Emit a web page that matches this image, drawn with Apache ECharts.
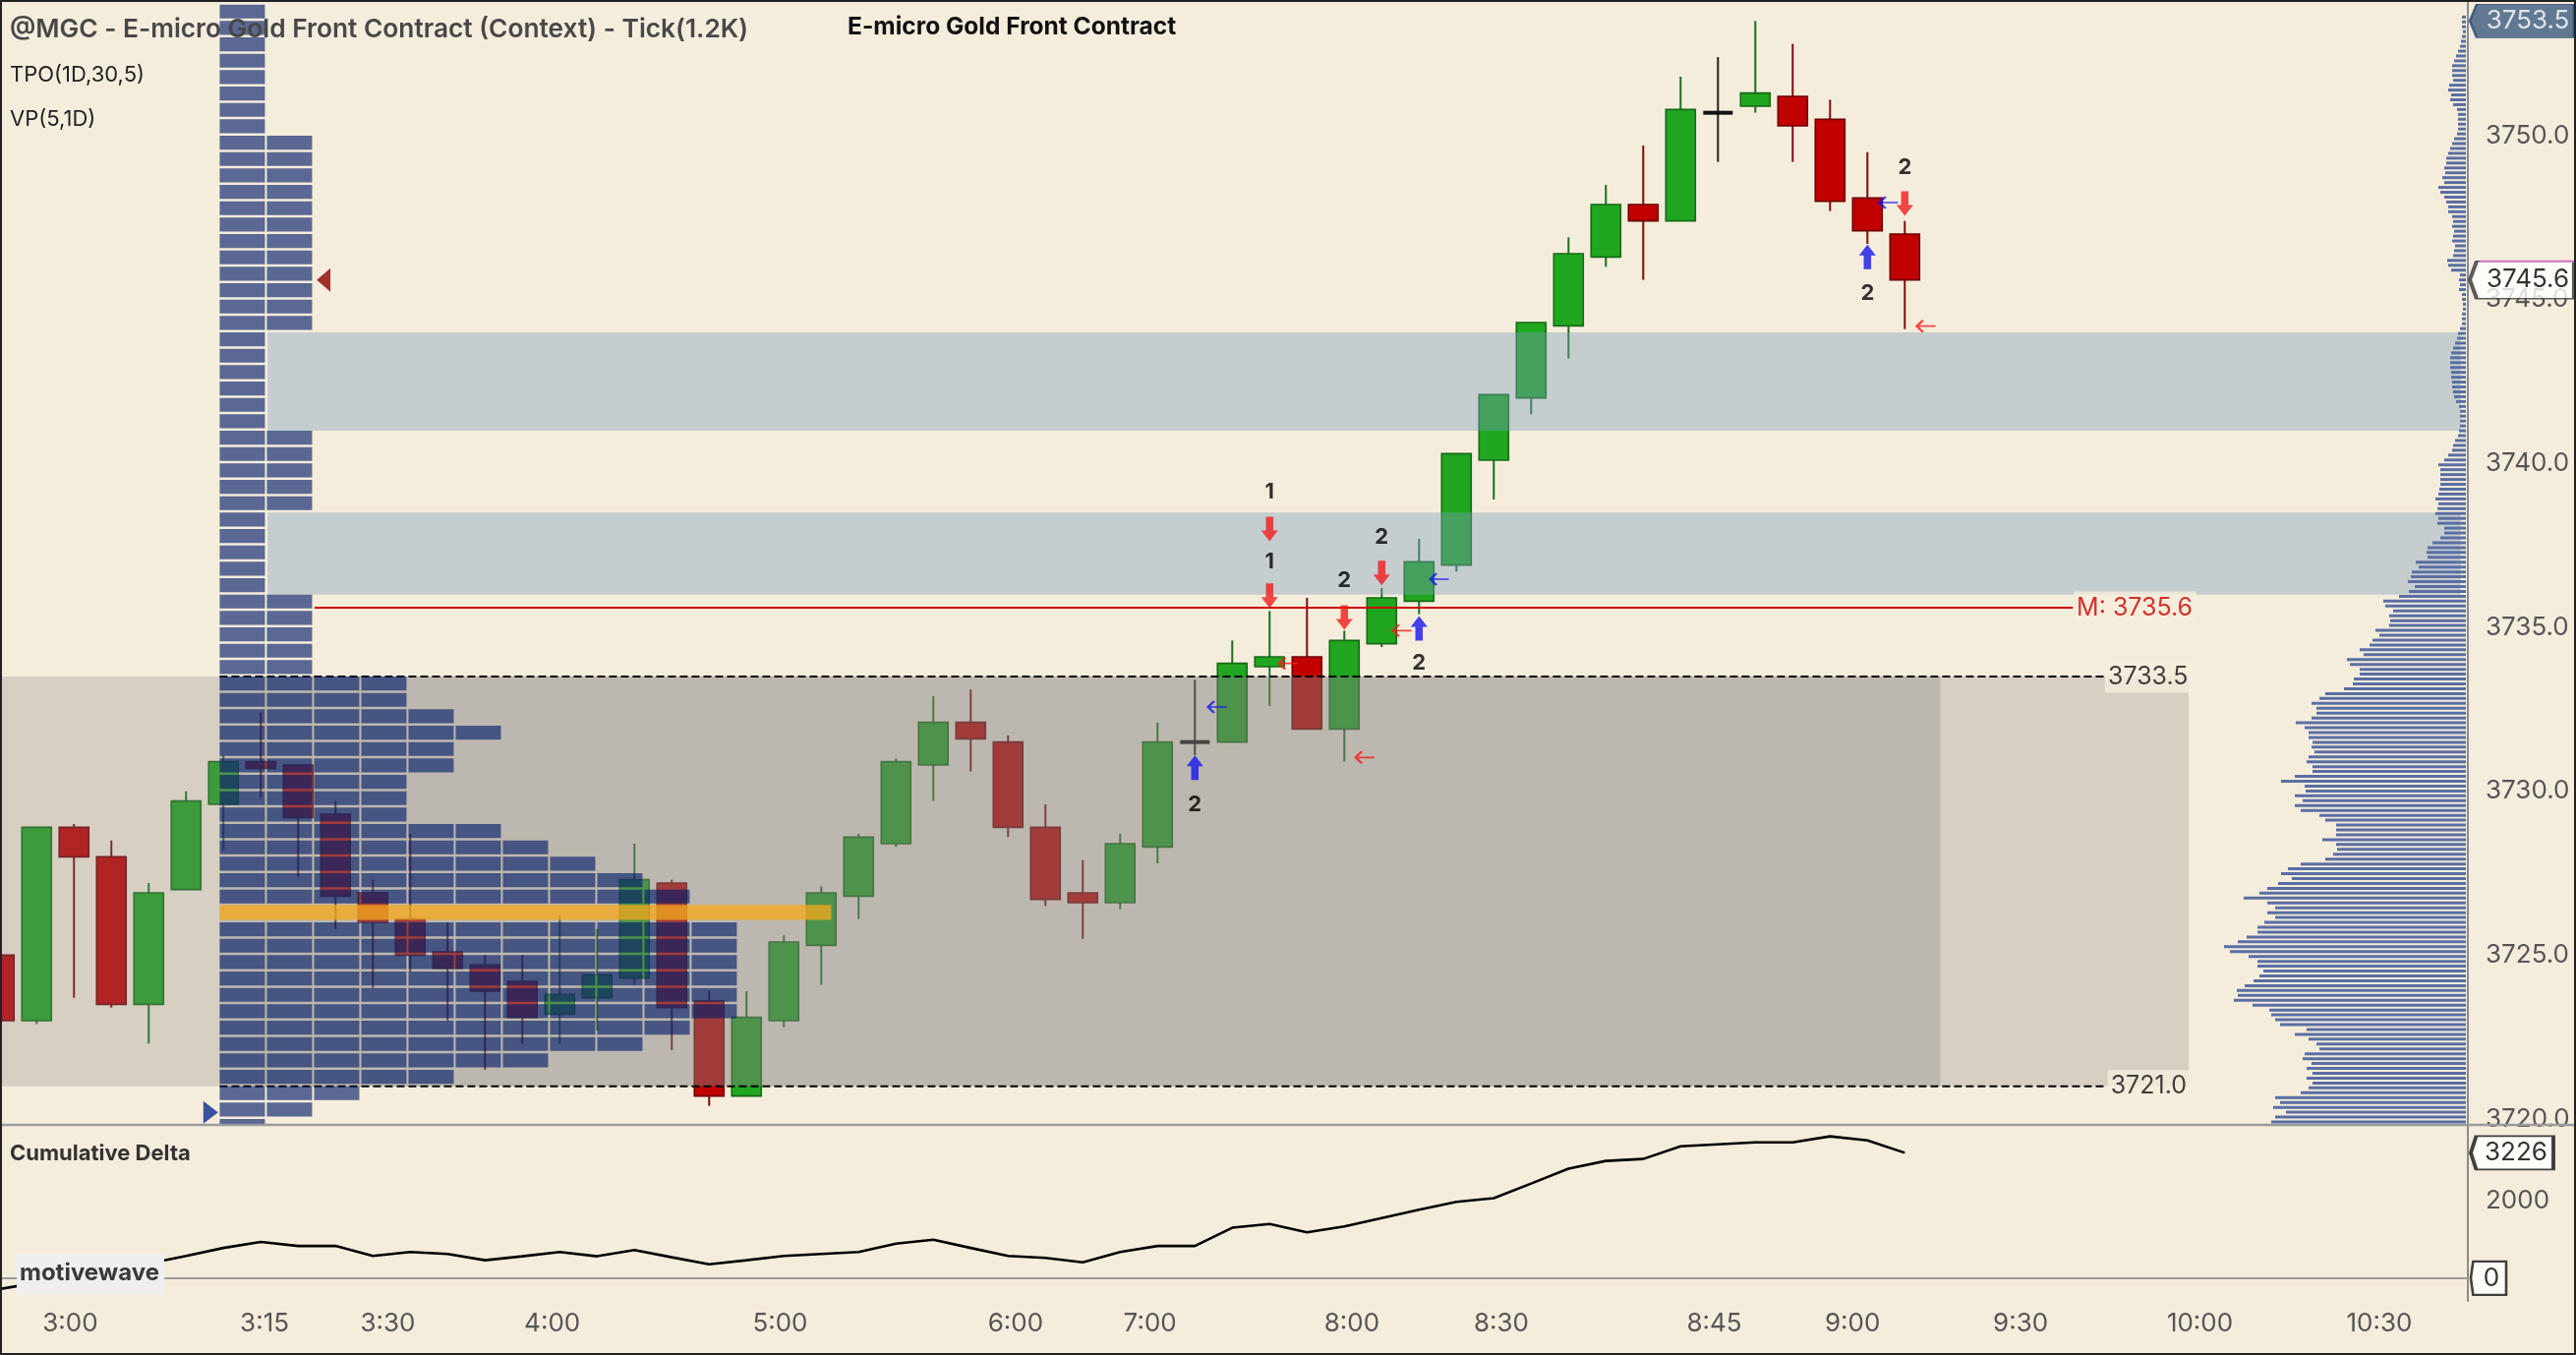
<!DOCTYPE html>
<html><head><meta charset="utf-8">
<script src="https://cdn.jsdelivr.net/npm/echarts@6/dist/echarts.min.js"></script>
<style>html,body{margin:0;padding:0;background:#f5eddc;overflow:hidden}#c{width:2620px;height:1378px}</style>
</head><body><div id="c"></div>
<script>
// ---------------- data ----------------
const candleOpen  = [3725.0,3723.0,3728.9,3728.0,3723.5,3727.0,3729.6,3730.9,3730.8,3729.3,3726.9,3726.1,3725.1,3724.7,3724.2,3723.2,3723.7,3724.3,3727.2,3723.6,3720.7,3723.0,3725.3,3726.8,3728.4,3730.8,3732.1,3731.5,3728.9,3726.9,3726.6,3728.3,3731.5,3731.5,3733.8,3734.1,3731.9,3734.5,3735.8,3736.9,3740.1,3742.0,3744.2,3746.3,3747.9,3747.4,3750.7,3750.9,3751.2,3750.5,3748.1,3747.0];
const candleClose = [3723.0,3728.9,3728.0,3723.5,3726.9,3729.7,3730.9,3730.7,3729.2,3726.8,3726.0,3725.0,3724.6,3723.9,3723.1,3723.8,3724.4,3727.3,3723.4,3720.7,3723.1,3725.4,3726.9,3728.6,3730.9,3732.1,3731.6,3728.9,3726.7,3726.6,3728.4,3731.5,3731.5,3733.9,3734.1,3731.9,3734.6,3735.9,3737.0,3740.3,3742.1,3744.3,3746.4,3747.9,3747.4,3750.8,3750.7,3751.3,3750.3,3748.0,3747.1,3745.6];
const candleLow   = [3722.9,3722.9,3723.7,3723.4,3722.3,3727.0,3728.2,3729.8,3727.4,3725.8,3724.0,3724.5,3723.0,3721.5,3722.3,3722.3,3722.7,3724.1,3722.1,3720.4,3720.7,3722.8,3724.1,3726.1,3728.3,3729.7,3730.6,3728.6,3726.5,3725.5,3726.4,3727.8,3731.1,3731.5,3732.6,3731.9,3730.9,3734.4,3735.4,3736.7,3738.9,3741.5,3743.2,3746.0,3745.6,3747.4,3749.2,3750.7,3749.2,3747.7,3746.7,3744.1];
const candleHigh  = [3725.1,3728.9,3729.0,3728.5,3727.2,3730.0,3731.1,3732.4,3730.8,3729.7,3727.3,3728.7,3726.0,3725.0,3725.0,3726.2,3725.8,3728.4,3727.3,3723.9,3723.9,3725.6,3727.1,3728.7,3731.0,3732.9,3733.1,3731.7,3729.6,3727.9,3728.7,3732.1,3733.4,3734.6,3735.5,3735.9,3734.9,3736.2,3737.7,3740.3,3742.1,3744.3,3746.9,3748.5,3749.7,3751.8,3752.4,3753.5,3752.8,3751.1,3749.5,3747.4];
const cumDelta    = [-280,-120,30,200,376,572,778,932,829,829,572,675,624,462,564,675,564,726,538,359,462,572,624,675,889,991,778,572,521,410,675,829,829,1299,1393,1180,1333,1547,1761,1966,2060,2436,2820,3017,3068,3393,3444,3496,3496,3650,3547,3226];

const timeLabels   = ['3:00','3:15','3:30','4:00','5:00','6:00','7:00','8:00','8:30','8:45','9:00','9:30','10:00','10:30'];
const timeLabelPos = [1.9,7.1,10.4,14.8,20.9,27.2,30.8,36.2,40.2,45.9,49.6,54.1,58.9,63.7];
const priceTicks   = [3720,3725,3730,3735,3740,3745,3750];
const deltaTicks   = [2000];

// TPO profile: rows of 0.5 from bin top 3754.0 downward, TPO count per row (POC row flagged)
const tpoBinTop = 3754.0;
const tpoBinSize = 0.5;
const tpoCounts = [1,1,1,1,1,1,1,1, 2,2,2,2,2,2,2,2,2,2,2,2, 1,1,1,1,1,1, 2,2,2,2,2, 1,1,1,1,1, 2,2,2,2,2,
  4,4,5,6,5,5,4,4,4,6,7,8,9,10,13,11,11,11,11,11,11,10,9,7,5,3,2,1];
const pocBin = [3726.0, 3726.5];

// Volume profile (right side), from 3753.62 downward
const vpTop = 3753.62;
const vpStep = 0.1485;
const vpVolumes = [4,4,4,3,4,5,6,8,10,12,14,14,14,13,17,18,15,16,13,9,8,8,8,8,9,12,14,16,18,20,20,22,21,24,22,28,26,22,20,18,18,14,13,14,12,13,14,11,12,13,19,18,15,6,7,6,7,4,4,3,3,4,4,4,6,8,9,11,13,15,16,16,16,15,15,14,14,13,12,10,7,6,6,6,6,7,8,11,13,14,18,22,28,26,26,26,26,27,28,31,28,29,31,28,29,22,22,26,34,39,40,39,51,48,55,56,59,52,58,68,84,82,74,78,77,78,92,88,95,98,108,104,121,118,108,108,114,115,
  124,143,149,157,152,152,157,173,164,160,160,156,157,154,160,162,156,156,174,188,164,163,174,166,174,168,149,143,132,132,132,146,132,131,135,143,168,181,188,177,191,202,210,226,202,194,202,194,205,212,212,223,232,246,240,221,212,212,206,210,216,225,233,232,236,217,200,198,194,189,162,174,160,152,149,164,166,157,162,156,162,156,160,168,194,189,196,183,194,198];

const valueArea = [3721.0, 3733.5];
const singlePrints = [[3741.0, 3744.0], [3736.0, 3738.5]];
const midPrice = 3735.6;
const sessionHigh = 3753.5;
const lastPrice = 3745.6;
const lastDelta = 3226;

// signals
const sigNumPos  = [[34,3739.13],[34,3737.0],[36,3736.44],[37,3737.75],[38,3733.92],[32,3729.6],[51,3749.04],[50,3745.2]];
const sigNumText = ['1','1','2','2','2','2','2','2'];
const sellArrows = [[34,3738.0],[34,3735.97],[36,3735.3],[37,3736.66],[51,3747.93]];
const buyArrows  = [[38,3734.97],[32,3730.72],[50,3746.3]];
const blueTicks  = [[32.6,3732.57],[38.55,3736.47],[50.57,3747.96]];
const redTicks   = [[34.5,3733.9],[36.55,3731.03],[37.55,3734.9],[51.57,3744.19]];

// ---------------- chart ----------------
const FONT = 'Inter, "Noto Sans", sans-serif';
const X_MIN = 0.02, X_MAX = 66.07, P_MIN = 3719.82, P_MAX = 3754.14;
const CD_MIN = -585, CD_MAX = 3919;
const BG = '#f5eddc';

const chart = echarts.init(document.getElementById('c'), null, {renderer:'canvas', width:2620, height:1378});

function renderCandle(params, api) {
  const i = api.value(0), o = api.value(1), c = api.value(2), l = api.value(3), h = api.value(4);
  const pO = api.coord([i, o]), pC = api.coord([i, c]), pL = api.coord([i, l]), pH = api.coord([i, h]);
  const x = pO[0], bw = 30;
  const doji = Math.abs(c - o) < 0.05, up = c > o;
  let fill = up ? '#21a621' : '#c10000';
  let stroke = up ? '#146a14' : '#6e0000';
  let wick = up ? '#1b6f1b' : '#7d0b0b';
  if (doji) { fill = '#111'; stroke = '#111'; wick = '#222'; }
  let top = Math.min(pO[1], pC[1]), hgt = Math.abs(pO[1] - pC[1]);
  if (doji) { top -= 2; hgt = 4; }
  return {type:'group', children:[
    {type:'line', shape:{x1:x, y1:pH[1], x2:x, y2:pL[1]}, style:{stroke:wick, lineWidth:2}},
    {type:'rect', shape:{x:x - bw/2, y:top, width:bw, height:Math.max(hgt,1)}, style:{fill:fill, stroke:stroke, lineWidth:doji?0:1.6}}
  ]};
}
function rectRenderer(fill) {
  return function(params, api) {
    const a = api.coord([api.value(0), api.value(3)]);
    const b = api.coord([api.value(1), api.value(2)]);
    return {type:'rect', shape:{x:a[0], y:a[1], width:b[0]-a[0], height:b[1]-a[1]}, style:{fill:fill}};
  };
}
const tpoStartIdx = 5.9;
function renderTPO(params, api) {
  const row = api.value(0), cnt = api.value(1);
  const pTop = tpoBinTop - row * tpoBinSize, pBot = pTop - tpoBinSize;
  const t = api.coord([tpoStartIdx, pTop]), b = api.coord([tpoStartIdx, pBot]);
  const h = (b[1] - t[1]) - 2.5;
  if (Math.abs(pBot - pocBin[0]) < 1e-6) {
    return {type:'rect', shape:{x:t[0], y:t[1]-1, width:cnt*48 - 2, height:h+1}, style:{fill:'rgba(246,168,27,0.76)'}};
  }
  const ch = [];
  for (let j = 0; j < cnt; j++) ch.push({type:'rect', shape:{x:t[0] + j*48, y:t[1], width:46, height:h}, style:{fill:'rgba(0,27,104,0.63)'}});
  return {type:'group', children:ch};
}
function renderVP(params, api) {
  const n = api.value(0), v = api.value(1);
  const p = vpTop - n * vpStep;
  const a = api.coord([v, p]), b = api.coord([0, p]);
  return {type:'rect', shape:{x:a[0], y:a[1]-1.5, width:b[0]-a[0], height:3}, style:{fill:'#5a6ea3'}};
}

const candleData = candleOpen.map((o, i) => [i, o, candleClose[i], candleLow[i], candleHigh[i]]);
const downArrow = 'path://M-4,0 L4,0 L4,14 L9,14 L0,25 L-9,14 L-4,14 Z';
const upArrow = 'path://M0,0 L9,11 L4,11 L4,25 L-4,25 L-4,11 L-9,11 Z';
const leftTick = 'path://M16,5 L1,5 M6,0 L1,5 L6,10';
const tagPath = 'path://M0,17 L7,0 L106,0 L106,34 L7,34 Z';

function hline(name, x1, x2, p, color, width, type, z) {
  return {type:'line', name:name, xAxisIndex:0, yAxisIndex:0, z:z, symbol:'none', silent:true, animation:false,
    data:[[x1, p],[x2, p]], lineStyle:{color:color, width:width, type:type}};
}
function textMark(name, x, p, text, color, bg, z) {
  return {type:'scatter', name:name, xAxisIndex:0, yAxisIndex:0, z:z, symbolSize:1, silent:true, animation:false,
    itemStyle:{color:'rgba(0,0,0,0)'}, data:[[x, p]],
    label:{show:true, position:'inside', align:'left', verticalAlign:'middle', formatter:text, color:color,
      fontFamily:FONT, fontSize:25, backgroundColor:bg, padding:[4,4,4,3]}};
}

const option = {
  backgroundColor: BG,
  animation: false,
  grid: [
    {left:0, top:0, width:2510, height:1144},
    {left:0, top:1145, width:2510, height:178},
    {left:2248, top:0, width:260, height:1144},
    {left:2512, top:0, width:106, height:1144},
    {left:2512, top:1145, width:106, height:178}
  ],
  xAxis: [
    {type:'value', gridIndex:0, min:X_MIN, max:X_MAX, show:false},
    {type:'value', gridIndex:1, min:X_MIN, max:X_MAX, splitLine:{show:false},
      axisLine:{show:true, lineStyle:{color:'#9a9a9a', width:2}}, axisTick:{show:false},
      axisLabel:{customValues:timeLabelPos, margin:10, color:'#555', fontFamily:FONT, fontSize:26,
        formatter:function(v){ const k = timeLabelPos.findIndex(t => Math.abs(t - v) < 1e-6); return k >= 0 ? timeLabels[k] : ''; }}},
    {type:'value', gridIndex:2, min:0, max:260, inverse:true, show:false},
    {type:'value', gridIndex:3, min:0, max:1, show:false},
    {type:'value', gridIndex:4, min:0, max:1, show:false}
  ],
  yAxis: [
    {type:'value', gridIndex:0, min:P_MIN, max:P_MAX, position:'right', splitLine:{show:false},
      axisLine:{show:true, lineStyle:{color:'#8c8c8c', width:2}}, axisTick:{show:false},
      axisLabel:{customValues:priceTicks, margin:18, color:'#555', fontFamily:FONT, fontSize:26, formatter:v => v.toFixed(1)}},
    {type:'value', gridIndex:1, min:CD_MIN, max:CD_MAX, position:'right', splitLine:{show:false},
      axisLine:{show:true, lineStyle:{color:'#8c8c8c', width:2}}, axisTick:{show:false},
      axisLabel:{customValues:deltaTicks, margin:18, color:'#555', fontFamily:FONT, fontSize:26, formatter:v => String(Math.round(v))}},
    {type:'value', gridIndex:2, min:P_MIN, max:P_MAX, show:false},
    {type:'value', gridIndex:3, min:P_MIN, max:P_MAX, show:false},
    {type:'value', gridIndex:4, min:CD_MIN, max:CD_MAX, show:false}
  ],
  series: [
    {type:'custom', name:'candles', xAxisIndex:0, yAxisIndex:0, z:2, clip:true, renderItem:renderCandle,
      encode:{x:0, y:[1,2,3,4]}, data:candleData},
    {type:'custom', name:'vaLight', xAxisIndex:0, yAxisIndex:0, z:3, clip:true, silent:true,
      renderItem:rectRenderer('rgba(134,130,130,0.28)'), encode:{x:[0,1], y:[2,3]},
      data:[[X_MIN, tpoStartIdx, valueArea[0], valueArea[1]], [51.95, 58.6, valueArea[0], valueArea[1]]]},
    {type:'custom', name:'vaDark', xAxisIndex:0, yAxisIndex:0, z:3, clip:true, silent:true,
      renderItem:rectRenderer('rgba(127,127,124,0.475)'), encode:{x:[0,1], y:[2,3]},
      data:[[tpoStartIdx, 51.95, valueArea[0], valueArea[1]]]},
    {type:'custom', name:'singlePrints', xAxisIndex:0, yAxisIndex:0, z:3, clip:true, silent:true,
      renderItem:rectRenderer('rgba(125,157,187,0.4)'), encode:{x:[0,1], y:[2,3]},
      data:singlePrints.map(s => [7.18, 65.88, s[0], s[1]])},
    hline('vah', tpoStartIdx, 56.33, valueArea[1], '#000', 2, [8,4], 4),
    hline('val', tpoStartIdx, 56.4, valueArea[0], '#000', 2, [8,4], 4),
    hline('mid', 8.44, 55.5, midPrice, '#cc0000', 2, 'solid', 4),
    {type:'custom', name:'tpo', xAxisIndex:0, yAxisIndex:0, z:5, clip:true, silent:true, renderItem:renderTPO,
      encode:{x:0, y:1}, data:tpoCounts.map((c, i) => [i, c])},
    {type:'custom', name:'vp', xAxisIndex:2, yAxisIndex:2, z:6, clip:true, silent:true, renderItem:renderVP,
      encode:{x:1, y:0}, data:vpVolumes.map((v, i) => [i, v])},
    {type:'scatter', name:'sell', xAxisIndex:0, yAxisIndex:0, z:7, symbol:downArrow, symbolSize:[17,25],
      itemStyle:{color:'#f01d1d'}, data:sellArrows},
    {type:'scatter', name:'buy', xAxisIndex:0, yAxisIndex:0, z:7, symbol:upArrow, symbolSize:[17,25],
      itemStyle:{color:'#1515ef'}, data:buyArrows},
    {type:'scatter', name:'blueTicks', xAxisIndex:0, yAxisIndex:0, z:7, symbol:leftTick, symbolSize:[19,12],
      itemStyle:{color:'rgba(0,0,0,0)', borderColor:'#1515ef', borderWidth:2.2}, data:blueTicks},
    {type:'scatter', name:'redTicks', xAxisIndex:0, yAxisIndex:0, z:7, symbol:leftTick, symbolSize:[19,12],
      itemStyle:{color:'rgba(0,0,0,0)', borderColor:'#f01d1d', borderWidth:2.2}, data:redTicks},
    {type:'scatter', name:'sigNums', xAxisIndex:0, yAxisIndex:0, z:7, symbolSize:1, itemStyle:{color:'rgba(0,0,0,0)'},
      data:sigNumPos, label:{show:true, position:'inside', formatter:p => sigNumText[p.dataIndex], color:'#000',
        fontFamily:FONT, fontWeight:'bold', fontSize:22}},
    {type:'scatter', name:'lastMark', xAxisIndex:0, yAxisIndex:0, z:7, symbol:'path://M0,12 L14,0 L14,24 Z',
      symbolSize:[14,24], itemStyle:{color:'#8b0000'}, data:[[8.68, lastPrice]]},
    {type:'scatter', name:'openMark', xAxisIndex:0, yAxisIndex:0, z:7, symbol:'path://M0,0 L15,11.5 L0,23 Z',
      symbolSize:[15,23], itemStyle:{color:'#0b2b8c'}, data:[[5.66, 3720.2]]},
    textMark('midLabel', 55.52, midPrice, 'M: ' + midPrice.toFixed(1), '#cc0000', BG, 8),
    textMark('vahLabel', 56.36, valueArea[1], valueArea[1].toFixed(1), '#111', BG, 8),
    textMark('valLabel', 56.43, valueArea[0], valueArea[0].toFixed(1), '#111', BG, 8),
    {type:'line', name:'cumDelta', xAxisIndex:1, yAxisIndex:1, z:3, symbol:'none', data:cumDelta.map((v, i) => [i, v]),
      lineStyle:{color:'#000', width:2.6}},
    {type:'scatter', name:'tagHigh', xAxisIndex:3, yAxisIndex:3, z:9, symbol:tagPath, symbolSize:[106,34],
      symbolOffset:[53,0], itemStyle:{color:'#3b5a7f', borderColor:'#2b4a6e', borderWidth:1.5}, data:[[0, sessionHigh]],
      label:{show:true, position:'inside', offset:[6,0], formatter:p => p.value[1].toFixed(1), color:'#fff', fontFamily:FONT, fontSize:26}},
    {type:'scatter', name:'tagLast', xAxisIndex:3, yAxisIndex:3, z:9, symbol:tagPath, symbolSize:[106,38],
      symbolOffset:[53,0], itemStyle:{color:'#ffffff', borderColor:'#333', borderWidth:2.5}, data:[[0, lastPrice]],
      label:{show:true, position:'inside', offset:[6,0], formatter:p => p.value[1].toFixed(1), color:'#000', fontFamily:FONT, fontSize:26}},
    {type:'scatter', name:'tagLastTop', xAxisIndex:3, yAxisIndex:3, z:10, symbol:'rect', symbolSize:[96,2.5],
      symbolOffset:[58,-19], itemStyle:{color:'#e58ad6'}, data:[[0, lastPrice]]},
    {type:'scatter', name:'tagDelta', xAxisIndex:4, yAxisIndex:4, z:9, symbol:tagPath, symbolSize:[84,34],
      symbolOffset:[43,0], itemStyle:{color:'#ffffff', borderColor:'#111', borderWidth:2.5}, data:[[0, lastDelta]],
      label:{show:true, position:'inside', offset:[4,0], formatter:p => String(p.value[1]), color:'#000', fontFamily:FONT, fontSize:26}},
    {type:'scatter', name:'tagZero', xAxisIndex:4, yAxisIndex:4, z:9, symbol:tagPath, symbolSize:[36,34],
      symbolOffset:[19,0], itemStyle:{color:'#ffffff', borderColor:'#111', borderWidth:2.5}, data:[[0, 0]],
      label:{show:true, position:'inside', offset:[3,0], formatter:'0', color:'#000', fontFamily:FONT, fontSize:26}}
  ],
  graphic: [
    {type:'line', z:50, shape:{x1:0, y1:1144, x2:2620, y2:1144}, style:{stroke:'#9a9a9a', lineWidth:2.5}},
    {type:'text', z:60, left:10, top:17, style:{text:'@MGC - E-micro Gold Front Contract (Context) - Tick(1.2K)', fill:'#484848', font:'600 26.3px ' + FONT}},
    {type:'text', z:60, left:10, top:65, style:{text:'TPO(1D,30,5)', fill:'#222', font:'22px ' + FONT}},
    {type:'text', z:60, left:10, top:110, style:{text:'VP(5,1D)', fill:'#222', font:'22px ' + FONT}},
    {type:'text', z:60, left:862, top:15, style:{text:'E-micro Gold Front Contract', fill:'#111', font:'bold 24.5px ' + FONT}},
    {type:'text', z:60, left:10, top:1162, style:{text:'Cumulative Delta', fill:'#333', font:'bold 22px ' + FONT}},
    {type:'rect', z:60, shape:{x:17, y:1275, width:150, height:42}, style:{fill:'#efefef'}},
    {type:'text', z:61, left:20, top:1283, style:{text:'motivewave', fill:'#3a3a3a', font:'bold 24px ' + FONT}},
    {type:'rect', z:70, shape:{x:1, y:1, width:2618, height:1376}, style:{fill:'none', stroke:'#222', lineWidth:2}}
  ]
};
chart.setOption(option);
</script>
</body></html>
